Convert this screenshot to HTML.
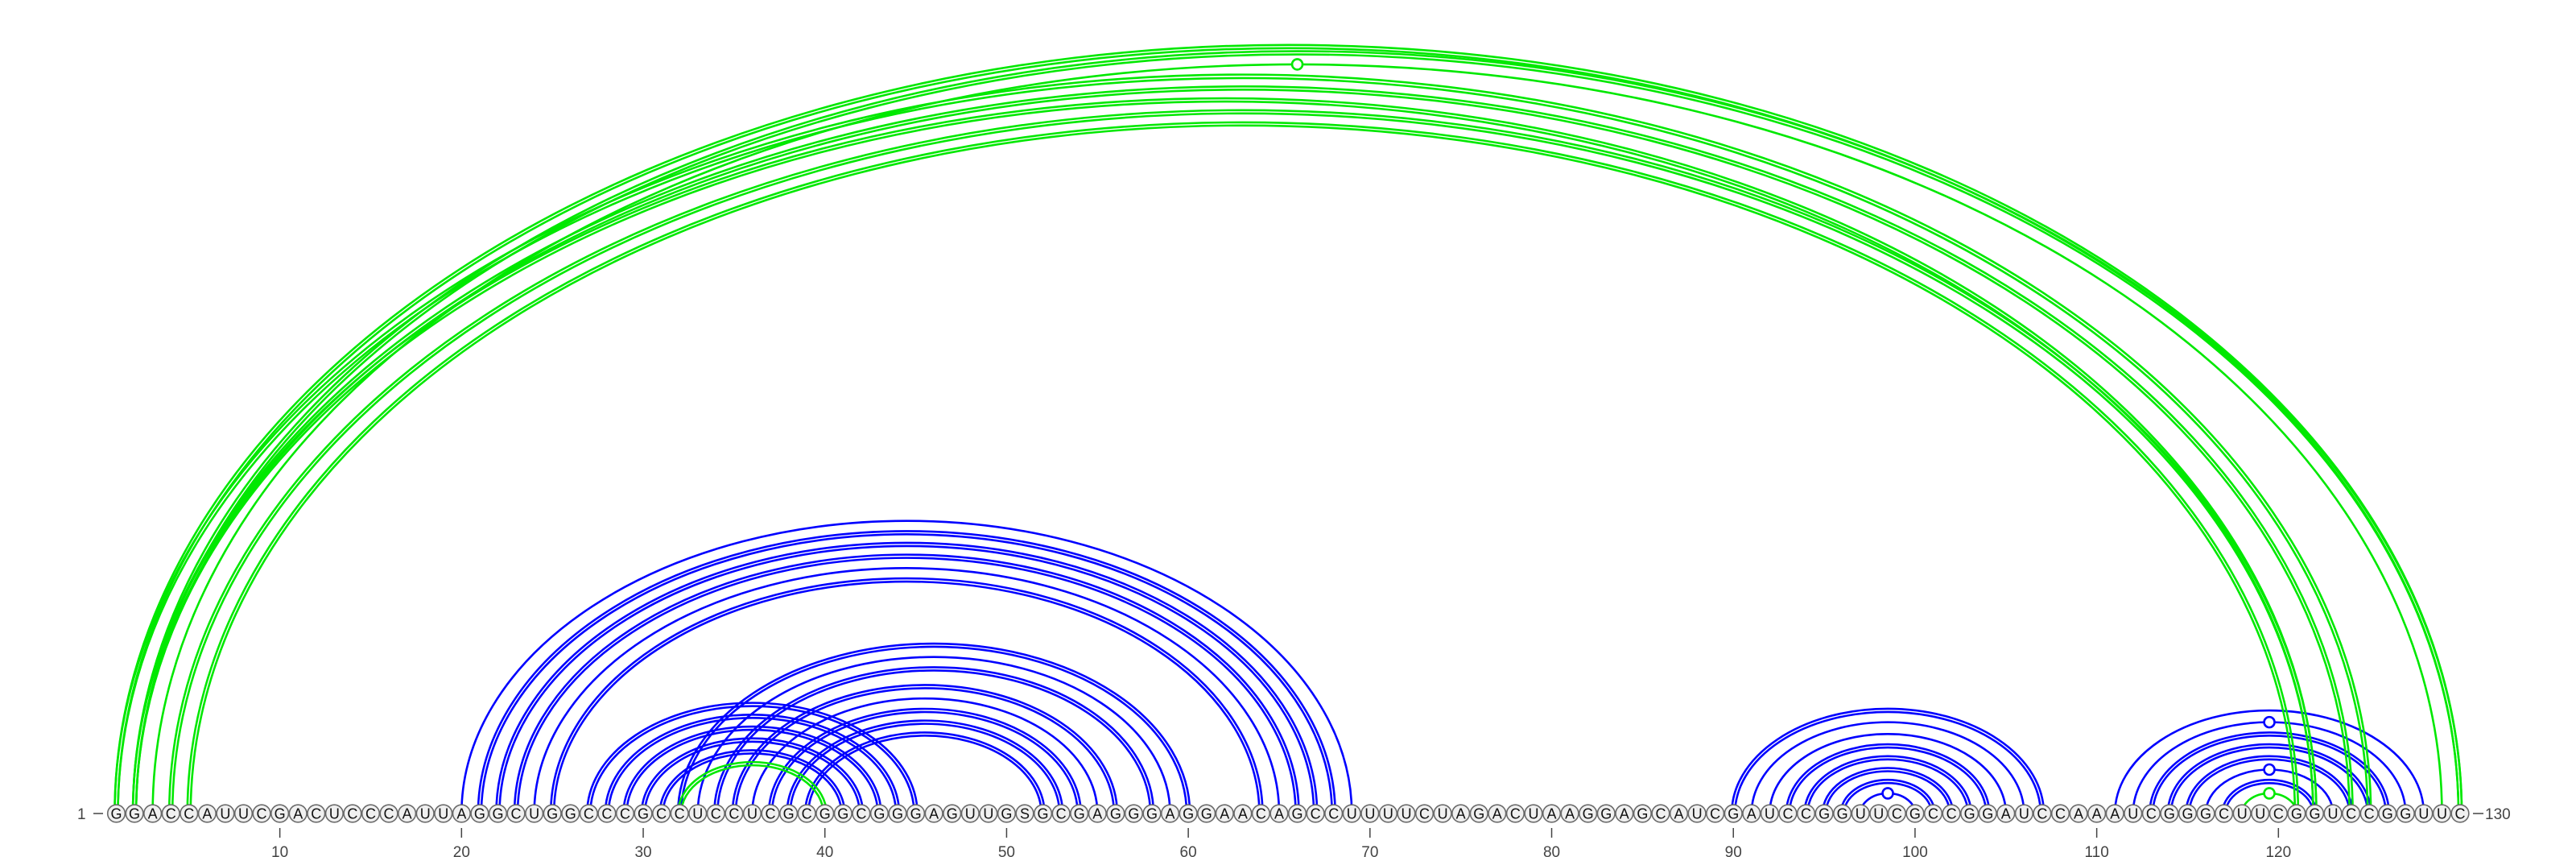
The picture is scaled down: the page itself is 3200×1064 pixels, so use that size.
<!DOCTYPE html>
<html><head><meta charset="utf-8">
<style>
html,body{margin:0;padding:0;background:#fff;}
svg{display:block;}
</style></head>
<body>
<svg id="chart" width="3200" height="1064" viewBox="0 0 3200 1064" xmlns="http://www.w3.org/2000/svg">
<g id="arcs"></g>
<g id="bases"></g>
<g id="axis"></g>
</svg>
<script>
const sequence = "GGACCAUUCGACUCCCAUUAGGCUGGCCCGCCUCCUCGCGGCGGGAGUUGSGCGAGGGAGGAACAGCCUUUUCUAGACUAAGGAGCAUCGAUCCGGUUCGCCGGAUCCAAAUCGGGCUUCGGUCCGGUUC";
const tickPositions = [10,20,30,40,50,60,70,80,90,100,110,120];
// arcs: [i, j, double(1)/single(0), marker(1/0)]
const bluePairs = [
 [20,69,0,0],[21,68,1,0],[22,67,1,0],[23,66,1,0],[24,65,0,0],[25,64,1,0],
 [27,45,1,0],[28,44,1,0],[29,43,1,0],[30,42,1,0],[31,41,1,0],
 [32,60,1,0],[33,59,0,0],[34,58,1,0],[35,56,1,0],[36,55,0,0],[37,54,1,0],[38,53,1,0],[39,52,1,0],
 [90,107,1,0],[91,106,0,0],[92,105,0,0],[93,104,1,0],[94,103,1,0],[95,102,1,0],[96,101,1,0],[97,100,0,1],
 [111,128,0,0],[112,127,0,1],[113,126,1,0],[114,125,1,0],[115,124,1,0],[116,123,0,1],[117,122,1,0]
];
const greenPairs = [
 [1,130,1,0],[2,130,1,0],[3,129,0,1],[1,125,1,0],[2,124,1,0],[2,122,1,0],[4,122,1,0],[5,121,1,0],
 [32,40,1,0],[118,121,0,1]
];
const X0 = 144.5, DX = 22.57, BASE = 1010, RATIO = 0.652;
function xPos(i){ return X0 + (i-1)*DX; }
const NS = "http://www.w3.org/2000/svg";
const arcsG = document.getElementById('arcs');
function arcPath(x1,x2,off){
  const cx=(x1+x2)/2, rx=(x2-x1)/2+off, ry=RATIO*(x2-x1)/2+off+3;
  return `M${cx-rx},${BASE} A${rx},${ry} 0 0 1 ${cx+rx},${BASE}`;
}
function drawPairs(pairs,color,name){
  pairs.forEach(p=>{
    const x1=xPos(p[0]), x2=xPos(p[1]);
    const offs = p[2] ? [-2,2] : [0];
    offs.forEach(o=>{
      const path=document.createElementNS(NS,'path');
      path.setAttribute('d',arcPath(x1,x2,o));
      path.setAttribute('fill','none');
      path.setAttribute('stroke',color);
      path.setAttribute('stroke-width','2.6');
      
      
      arcsG.appendChild(path);
    });
    if(p[3]){
      const c=document.createElementNS(NS,'circle');
      c.setAttribute('cx',(x1+x2)/2);
      c.setAttribute('cy',BASE-RATIO*(x2-x1)/2-3);
      c.setAttribute('r',6.5);
      c.setAttribute('fill','#fff');
      c.setAttribute('stroke',color);
      c.setAttribute('stroke-width','2.6');
      
      
      arcsG.appendChild(c);
    }
  });
}
drawPairs(bluePairs,'#0000ff','blue-arc');
drawPairs(greenPairs,'#00e800','green-arc');

const basesG=document.getElementById('bases');
for(let k=0;k<sequence.length;k++){
  const x=xPos(k+1);
  const c=document.createElementNS(NS,'circle');
  c.setAttribute('cx',x); c.setAttribute('cy',BASE); c.setAttribute('r',10.8);
  c.setAttribute('fill','#f0f0f0'); c.setAttribute('stroke','#6a6a6a'); c.setAttribute('stroke-width','1.6');
  
  
  basesG.appendChild(c);
  const t=document.createElementNS(NS,'text');
  t.setAttribute('x',x); t.setAttribute('y',BASE+6.5);
  t.setAttribute('text-anchor','middle');
  t.setAttribute('font-family','"Liberation Sans", sans-serif');
  t.setAttribute('font-size','18');
  t.setAttribute('fill','#111');
  t.textContent=sequence[k];
  
  
  basesG.appendChild(t);
}
const axisG=document.getElementById('axis');
tickPositions.forEach(p=>{
  const x=xPos(p);
  const l=document.createElementNS(NS,'line');
  l.setAttribute('x1',x); l.setAttribute('x2',x); l.setAttribute('y1',1028); l.setAttribute('y2',1040);
  l.setAttribute('stroke','#444'); l.setAttribute('stroke-width','1.5');
  
  
  axisG.appendChild(l);
  const t=document.createElementNS(NS,'text');
  t.setAttribute('x',x); t.setAttribute('y',1064);
  t.setAttribute('text-anchor','middle');
  t.setAttribute('font-family','"Liberation Sans", sans-serif');
  t.setAttribute('font-size','19');
  t.setAttribute('fill','#444');
  t.textContent=p;
  
  
  axisG.appendChild(t);
});
const startT=document.createElementNS(NS,'text');
startT.setAttribute('x',96); startT.setAttribute('y',1017);
startT.setAttribute('font-family','"Liberation Sans", sans-serif');
startT.setAttribute('font-size','19'); startT.setAttribute('fill','#444');
startT.textContent='1';


axisG.appendChild(startT);
const d1=document.createElementNS(NS,'line');
d1.setAttribute('x1',116); d1.setAttribute('x2',128); d1.setAttribute('y1',1010); d1.setAttribute('y2',1010);
d1.setAttribute('stroke','#444'); d1.setAttribute('stroke-width','1.5');


axisG.appendChild(d1);
const xe=xPos(sequence.length);
const d2=document.createElementNS(NS,'line');
d2.setAttribute('x1',xe+16); d2.setAttribute('x2',xe+29); d2.setAttribute('y1',1010); d2.setAttribute('y2',1010);
d2.setAttribute('stroke','#444'); d2.setAttribute('stroke-width','1.5');


axisG.appendChild(d2);
const endT=document.createElementNS(NS,'text');
endT.setAttribute('x',xe+31); endT.setAttribute('y',1017);
endT.setAttribute('font-family','"Liberation Sans", sans-serif');
endT.setAttribute('font-size','19'); endT.setAttribute('fill','#444');
endT.textContent='130';


axisG.appendChild(endT);
</script>
</body></html>
